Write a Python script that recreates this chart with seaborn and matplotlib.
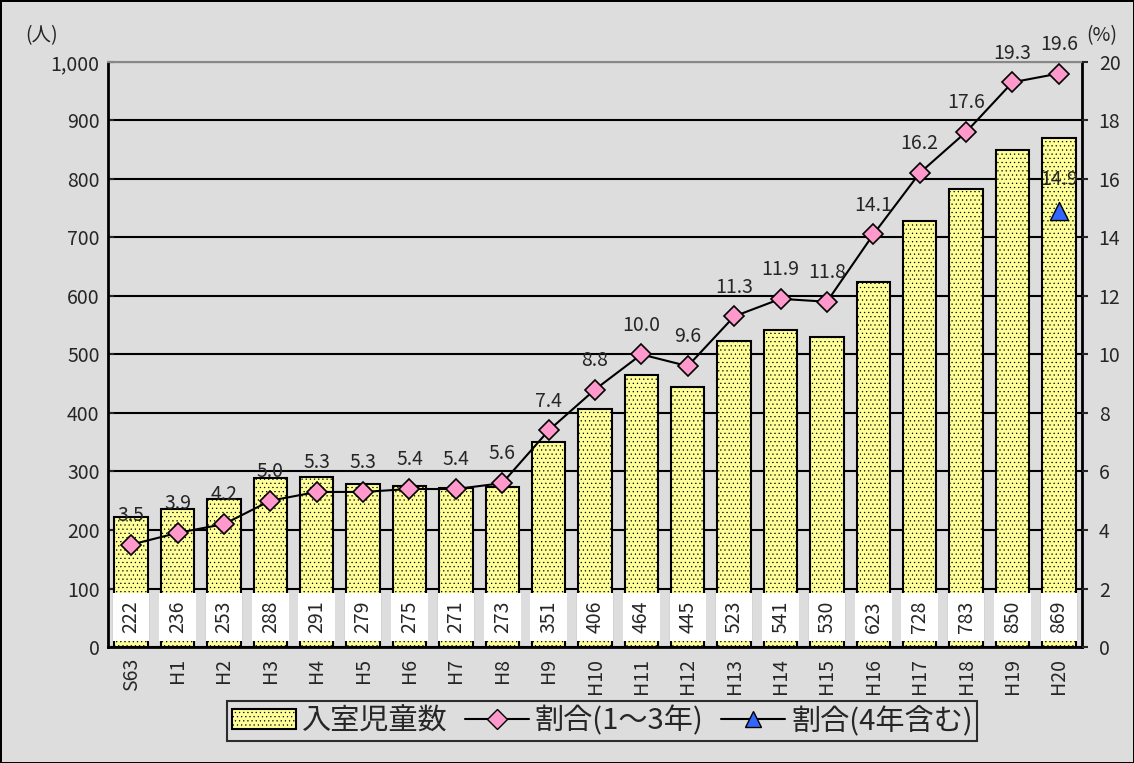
import numpy as np
import matplotlib.pyplot as plt
import matplotlib.patches as mpatches
import matplotlib.lines as mlines
from matplotlib.ticker import FuncFormatter, FixedLocator
import seaborn as sns

nendo = ['S63', 'H1', 'H2', 'H3', 'H4', 'H5', 'H6', 'H7', 'H8', 'H9', 'H10',
         'H11', 'H12', 'H13', 'H14', 'H15', 'H16', 'H17', 'H18', 'H19', 'H20']
jidou = [222, 236, 253, 288, 291, 279, 275, 271, 273, 351, 406,
         464, 445, 523, 541, 530, 623, 728, 783, 850, 869]
wariai = [3.5, 3.9, 4.2, 5.0, 5.3, 5.3, 5.4, 5.4, 5.6, 7.4, 8.8,
          10.0, 9.6, 11.3, 11.9, 11.8, 14.1, 16.2, 17.6, 19.3, 19.6]
wariai4_nendo = ['H20']
wariai4 = [14.9]

sns.set_style('white')
plt.rcParams['font.family'] = ['Noto Sans CJK JP', 'DejaVu Sans']
plt.rcParams['hatch.linewidth'] = 0.4
plt.rcParams['hatch.color'] = '#555500'

fs = 14
bg = '#DDDDDD'
fig = plt.figure(figsize=(11.34, 7.63), dpi=100, facecolor=bg,
                 edgecolor='black', linewidth=2)
ax = fig.add_axes([0.0952, 0.152, 0.859, 0.767])
ax.set_facecolor(bg)

x = np.arange(len(nendo))

sns.barplot(x=nendo, y=jidou, color='#FFFF99', saturation=1, width=0.72,
            edgecolor='black', linewidth=1.5, hatch='....', ax=ax, zorder=2)
ax.set_ylim(0, 1000)
ax.set_xlim(-0.5, len(nendo) - 0.5)
ax.set_yticks(np.arange(0, 1001, 100))
ax.yaxis.set_major_formatter(FuncFormatter(lambda v, p: f'{int(v):,}'))
ax.yaxis.grid(True, color='black', lw=1.5)
ax.set_axisbelow(True)
ax.tick_params(axis='y', labelsize=fs, direction='in', length=4, width=1.5, pad=6)
ax.set_xticks(x)
ax.set_xticklabels(nendo, rotation=90, fontsize=fs)
ax.tick_params(axis='x', length=0, pad=8)
ax.xaxis.set_minor_locator(FixedLocator(np.arange(-0.5, len(nendo), 1)))
ax.tick_params(axis='x', which='minor', length=4, width=1.5, direction='out')
ax.set_xlabel('')
ax.set_ylabel('')
for s in ['left', 'bottom']:
    ax.spines[s].set_color('black')
    ax.spines[s].set_linewidth(2)
ax.spines['top'].set_color('#888888')
ax.spines['top'].set_linewidth(1.5)
ax.spines['right'].set_color('black')
ax.spines['right'].set_linewidth(2)

for i, v in enumerate(jidou):
    ax.text(i, 51, str(v), rotation=90, ha='center', va='center', fontsize=fs,
            zorder=5, bbox=dict(boxstyle='square,pad=0.4', fc='white', ec='none'))

ax2 = ax.twinx()
ax2.set_ylim(0, 20)
sns.lineplot(x=x, y=wariai, ax=ax2, color='black', lw=1.5, marker='D',
             markersize=10, markerfacecolor='#FF99CC', markeredgecolor='black',
             markeredgewidth=1.2, zorder=6)
x4 = [nendo.index(n) for n in wariai4_nendo]
sns.scatterplot(x=x4, y=wariai4, ax=ax2, marker='^', s=170, color='#3366FF',
                edgecolor='black', linewidth=1, zorder=7)
ax2.set_yticks(np.arange(0, 21, 2))
ax2.tick_params(axis='y', labelsize=fs, direction='out', length=4, width=1.5, pad=8)
ax2.set_ylabel('')
for s in ax2.spines.values():
    s.set_visible(False)

for i, v in enumerate(wariai):
    ax2.annotate(f'{v:.1f}', (i, v), xytext=(0, 21), textcoords='offset points',
                 ha='center', va='center', fontsize=fs, zorder=8)
for i, v in zip(x4, wariai4):
    ax2.annotate(f'{v:.1f}', (i, v), xytext=(0, 23), textcoords='offset points',
                 ha='center', va='center', fontsize=fs, zorder=8)

ax.text(-0.068, 1.045, '(人)', transform=ax.transAxes, ha='center', va='center',
        fontsize=fs)
ax.text(1.02, 1.045, '(%)', transform=ax.transAxes, ha='center', va='center',
        fontsize=fs)

h_bar = mpatches.Patch(facecolor='#FFFF99', edgecolor='black', hatch='....',
                       linewidth=1.5, label='入室児童数')
h_line = mlines.Line2D([], [], color='black', lw=1.5, marker='D', markersize=10,
                       markerfacecolor='#FF99CC', markeredgecolor='black',
                       label='割合(1～3年)')
h_tri = mlines.Line2D([], [], color='black', lw=1.5, marker='^', markersize=12,
                      markerfacecolor='#3366FF', markeredgecolor='black',
                      label='割合(4年含む)')
leg = fig.legend(handles=[h_bar, h_line, h_tri], loc='center',
                 bbox_to_anchor=(0.531, 0.055), ncol=3, fontsize=21,
                 frameon=True, fancybox=False, edgecolor='black',
                 facecolor=bg, handlelength=2.2, handletextpad=0.2,
                 columnspacing=0.6, borderpad=0.15)
leg.get_frame().set_linewidth(1.5)

fig.savefig('out.png', dpi=100, facecolor=bg, edgecolor='black')
